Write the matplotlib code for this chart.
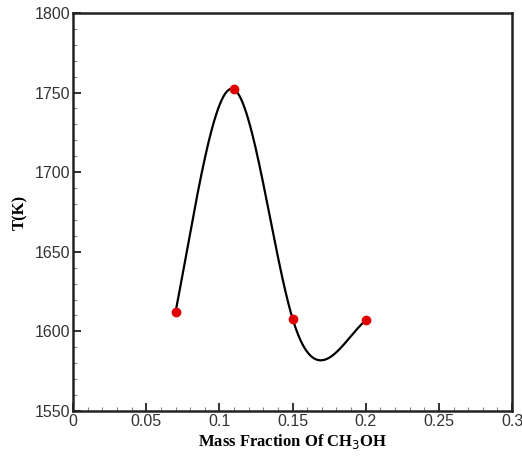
import numpy as np
import matplotlib.pyplot as plt
from matplotlib.ticker import MultipleLocator

# Temperatura frente a fracción másica de metanol
fraccion = [0.07, 0.11, 0.15, 0.20]
temperatura = [1612, 1752, 1608, 1607]

# Pendientes impuestas en los extremos del spline (K por unidad de fracción)
pendiente_ini = 4800
pendiente_fin = 800


def spline_sujeto(x, y, xs, d0, dn):
    # Spline cúbico con primera derivada fija en los extremos
    x = np.asarray(x, float)
    y = np.asarray(y, float)
    n = len(x)
    h = np.diff(x)
    A = np.zeros((n, n))
    b = np.zeros(n)
    A[0, 0], A[0, 1] = 2 * h[0], h[0]
    b[0] = 6 * ((y[1] - y[0]) / h[0] - d0)
    A[-1, -2], A[-1, -1] = h[-1], 2 * h[-1]
    b[-1] = 6 * (dn - (y[-1] - y[-2]) / h[-1])
    for i in range(1, n - 1):
        A[i, i - 1] = h[i - 1]
        A[i, i] = 2 * (h[i - 1] + h[i])
        A[i, i + 1] = h[i]
        b[i] = 6 * ((y[i + 1] - y[i]) / h[i] - (y[i] - y[i - 1]) / h[i - 1])
    M = np.linalg.solve(A, b)
    idx = np.clip(np.searchsorted(x, xs) - 1, 0, n - 2)
    x0, x1 = x[idx], x[idx + 1]
    hh = x1 - x0
    t0, t1 = x1 - xs, xs - x0
    return (M[idx] * t0**3 / (6 * hh) + M[idx + 1] * t1**3 / (6 * hh)
            + (y[idx] / hh - M[idx] * hh / 6) * t0
            + (y[idx + 1] / hh - M[idx + 1] * hh / 6) * t1)


xs = np.linspace(fraccion[0], fraccion[-1], 400)
ys = spline_sujeto(fraccion, temperatura, xs, pendiente_ini, pendiente_fin)

fig = plt.figure(figsize=(5.22, 4.57), dpi=100)
ax = fig.add_axes([0.14, 0.1007, 0.841, 0.8709])

ax.plot(xs, ys, color='black', lw=1.6)
ax.plot(fraccion, temperatura, 'o', color='#e00000', ms=6, zorder=3)

ax.set_xlim(0, 0.3)
ax.set_ylim(1550, 1800)
ax.xaxis.set_major_locator(MultipleLocator(0.05))
ax.xaxis.set_minor_locator(MultipleLocator(0.01))
ax.yaxis.set_major_locator(MultipleLocator(50))
ax.yaxis.set_minor_locator(MultipleLocator(10))
ax.set_xticks([0, 0.05, 0.1, 0.15, 0.2, 0.25, 0.3])
ax.set_xticklabels(['0', '0.05', '0.1', '0.15', '0.2', '0.25', '0.3'])

ax.tick_params(which='both', direction='in', top=False, right=False,
               labelsize=11.5, colors='#222222', width=1.3)
ax.tick_params(which='major', length=6, pad=2)
ax.tick_params(which='minor', length=3, width=0.8, colors='#888888')
for lab in ax.get_xticklabels() + ax.get_yticklabels():
    lab.set_fontfamily('Liberation Sans')
    lab.set_color('#333333')
for s in ax.spines.values():
    s.set_linewidth(1.8)
    s.set_color('#222222')

ax.set_xlabel(r'Mass Fraction Of CH$_3$OH', fontfamily='Liberation Serif',
              fontweight='bold', fontsize=12, labelpad=2)
ax.set_ylabel('T(K)', fontfamily='Liberation Serif', fontweight='bold',
              fontsize=12, labelpad=5)

fig.savefig('out.png', dpi=100)
